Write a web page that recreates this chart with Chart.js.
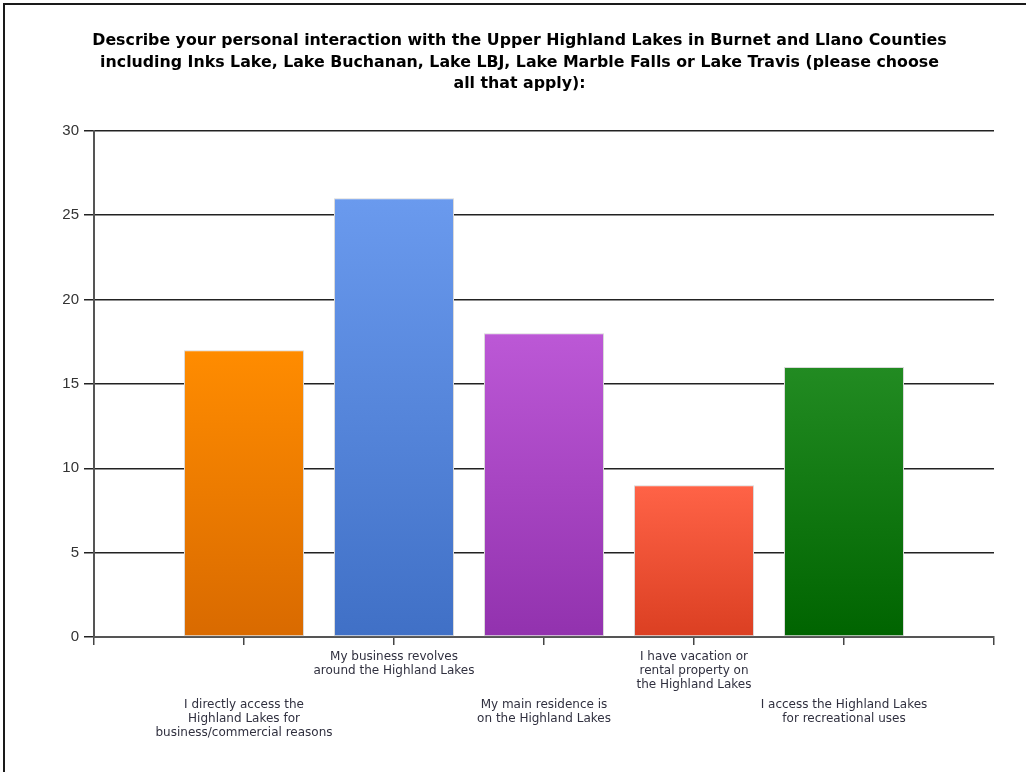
<!DOCTYPE html>
<html>
<head>
<meta charset="utf-8">
<script src="https://cdn.jsdelivr.net/npm/chart.js@4/dist/chart.umd.min.js"></script>
<style>
  html, body { margin: 0; padding: 0; background: #fff; overflow: hidden; }
  #wrap { position: absolute; left: 0; top: 0; width: 1026px; height: 772px; }
  #frame { position: absolute; left: 3px; top: 3px; width: 1100px; height: 900px;
           border-top: 2px solid #1a1a1a; border-left: 2px solid #1a1a1a; }
</style>
</head>
<body>
<div id="frame"></div>
<div id="wrap"><canvas id="c"></canvas></div>
<script>
const titleLines = [
  'Describe your personal interaction with the Upper Highland Lakes in Burnet and Llano Counties',
  'including Inks Lake, Lake Buchanan, Lake LBJ, Lake Marble Falls or Lake Travis (please choose',
  'all that apply):'
];
const categories = [
  'I directly access the Highland Lakes for business/commercial reasons',
  'My business revolves around the Highland Lakes',
  'My main residence is on the Highland Lakes',
  'I have vacation or rental property on the Highland Lakes',
  'I access the Highland Lakes for recreational uses'
];
const labelLines = [
  ['I directly access the', 'Highland Lakes for', 'business/commercial reasons'],
  ['My business revolves', 'around the Highland Lakes'],
  ['My main residence is', 'on the Highland Lakes'],
  ['I have vacation or', 'rental property on', 'the Highland Lakes'],
  ['I access the Highland Lakes', 'for recreational uses']
];
const values = [17, 26, 18, 9, 16];
const colorTop = ['#FF8C00', '#6A9AEE', '#BC58D6', '#FF6347', '#228B22'];
const colorBottom = ['#D96A00', '#4070C6', '#9232AE', '#DB3F22', '#006400'];
const yMin = 0, yMax = 30, yStep = 5;

const labels = [''].concat(categories, ['']);
const data = [null].concat(values, [null]);

function barColor(ctx) {
  const i = ctx.dataIndex - 1;
  if (i < 0 || i >= values.length) return 'rgba(0,0,0,0)';
  const chart = ctx.chart;
  if (!chart.chartArea || !chart.scales.y) return colorTop[i];
  const yScale = chart.scales.y;
  const top = yScale.getPixelForValue(values[i]);
  const bottom = yScale.getPixelForValue(0);
  const g = chart.ctx.createLinearGradient(0, top, 0, bottom);
  g.addColorStop(0, colorTop[i]);
  g.addColorStop(1, colorBottom[i]);
  return g;
}

const tickFont = { family: 'DejaVu Sans', size: 12, lineHeight: 14 / 12 };

new Chart(document.getElementById('c'), {
  type: 'bar',
  data: {
    labels: labels,
    datasets: [{
      data: data,
      backgroundColor: barColor,
      borderColor: '#D9D9D9',
      borderWidth: 1,
      borderSkipped: false,
      categoryPercentage: 0.8,
      barPercentage: 1.0
    }]
  },
  options: {
    responsive: true,
    maintainAspectRatio: false,
    animation: false,
    layout: { padding: { left: 45, right: 32, top: 0, bottom: 0 } },
    plugins: {
      legend: { display: false },
      tooltip: { enabled: false },
      title: {
        display: true,
        text: titleLines,
        color: '#000',
        font: { family: 'DejaVu Sans', size: 15.8, weight: 'bold', lineHeight: 21.6 / 15.8 },
        padding: { top: 30, bottom: 36 }
      }
    },
    scales: {
      x: {
        type: 'category',
        position: 'bottom',
        offset: false,
        weight: 0,
        grid: { display: true, offset: false, drawOnChartArea: false, drawTicks: true, tickLength: 8, color: '#444', lineWidth: 1.5 },
        border: { display: true, color: '#555', width: 2 },
        ticks: {
          autoSkip: false, maxRotation: 0, minRotation: 0, padding: 5,
          color: '#30303f', font: tickFont,
          callback: function (v, idx) {
            const i = idx - 1;
            if (i === 1 || i === 3) return labelLines[i];
            return '';
          }
        },
        afterFit: function (s) { s.height = 60; }
      },
      x2: {
        type: 'category',
        position: 'bottom',
        offset: false,
        weight: 1,
        labels: labels,
        grid: { display: false, offset: false, drawTicks: false },
        border: { display: false },
        ticks: {
          autoSkip: false, maxRotation: 0, minRotation: 0, padding: 1,
          color: '#30303f', font: tickFont,
          callback: function (v, idx) {
            const i = idx - 1;
            if (i === 0 || i === 2 || i === 4) return labelLines[i];
            return '';
          }
        },
        afterFit: function (s) { s.height = 75; }
      },
      y: {
        min: yMin, max: yMax,
        grid: { color: '#222', lineWidth: 1.5, tickLength: 10 },
        border: { display: true, color: '#555', width: 2 },
        ticks: {
          stepSize: yStep, padding: 5, color: '#333',
          font: { family: 'Liberation Sans', size: 15 }
        },
        afterFit: function (s) { s.width = 49; }
      }
    }
  }
});
</script>
</body>
</html>
